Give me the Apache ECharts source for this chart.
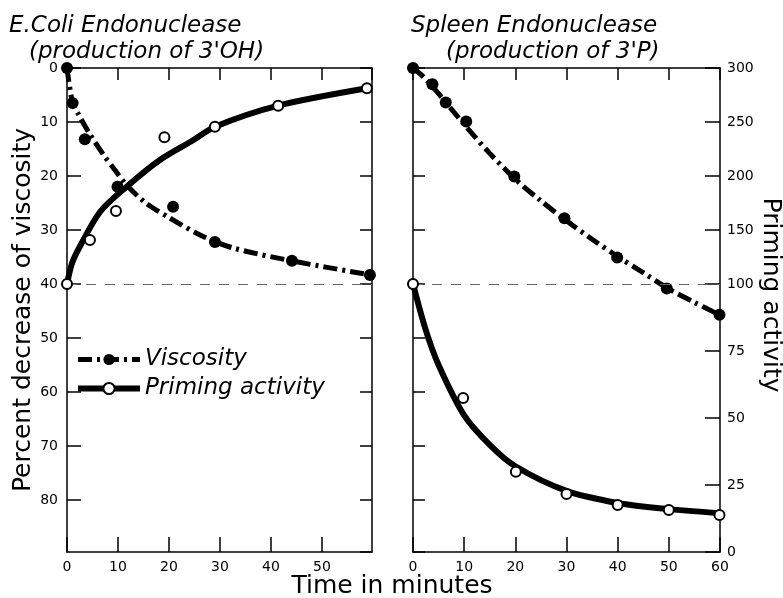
<!DOCTYPE html>
<html><head><meta charset="utf-8">
<script src="https://cdn.jsdelivr.net/npm/echarts@6/dist/echarts.min.js"></script>
<style>html,body{margin:0;padding:0;background:#fff}#c{width:783px;height:598px}</style>
</head><body><div id="c"></div>
<script>
// ---- Left panel: E. coli endonuclease ----
// Viscosity (percent decrease), measured points
const ecoliViscPtTime = [0, 1.1, 3.5, 9.9, 20.8, 29.0, 44.1, 59.4];
const ecoliViscPtVal  = [0, 6.5, 13.2, 22.0, 25.7, 32.2, 35.7, 38.3];
// Viscosity drawn curve
const ecoliViscCurveTime = [0, 1.1, 2.2, 4.2, 7.1, 9.4, 11.7, 15.6, 20.2, 26.1, 32.5, 44.1, 59.4];
const ecoliViscCurveVal  = [0, 6.5, 8.5, 11.8, 16.0, 18.9, 21.7, 25.1, 27.8, 30.9, 33.3, 35.7, 38.3];
// Priming activity, measured points
const ecoliPrimPtTime = [0, 4.5, 9.6, 19.1, 29.0, 41.4, 58.8];
const ecoliPrimPtVal  = [100, 140.7, 167.6, 235.8, 245.6, 265.1, 281.2];
// Priming activity drawn curve
const ecoliPrimCurveTime = [0, 1.0, 2.5, 6.5, 11.7, 18.2, 24.8, 29.0, 41.4, 58.8];
const ecoliPrimCurveVal  = [100, 119.4, 134.5, 166.9, 190.1, 214.8, 233.3, 245.6, 265.1, 281.2];

// ---- Right panel: Spleen endonuclease ----
const spleenViscPtTime = [0, 3.8, 6.4, 10.4, 19.8, 29.6, 39.9, 49.6, 59.9];
const spleenViscPtVal  = [0, 3.0, 6.4, 9.9, 20.1, 27.8, 35.1, 40.8, 45.7];
const spleenViscCurveTime = [0, 2, 4.5, 7.5, 10.5, 15, 20, 25, 30, 35, 40, 45, 50, 55, 59.9];
const spleenViscCurveVal  = [0, 1.6, 4.2, 7.6, 11.0, 15.8, 20.6, 24.6, 28.3, 31.7, 34.9, 37.9, 40.9, 43.4, 45.7];
const spleenPrimPtTime = [0, 9.8, 20.1, 30, 40, 50, 59.9];
const spleenPrimPtVal  = [100, 57.5, 29.9, 21.6, 17.5, 15.7, 13.8];
const spleenPrimCurveTime = [0, 2.5, 5, 10, 15, 20, 30, 40, 50, 60];
const spleenPrimCurveVal  = [100, 82.8, 69.8, 51, 40, 32, 22.8, 18.3, 16, 14.5];

// Text
const titleLeft1 = 'E.Coli Endonuclease';
const titleLeft2 = "(production of 3'OH)";
const titleRight1 = 'Spleen Endonuclease';
const titleRight2 = "(production of 3'P)";
const yNameLeft = 'Percent decrease of viscosity';
const yNameRight = 'Priming activity';
const xName = 'Time in minutes';
const seriesNames = ['Viscosity', 'Priming activity'];

const pair = (xs, ys) => xs.map((x, i) => [x, ys[i]]);
const FONT = 'DejaVu Sans';
const BLACK = '#000';
const axisLineStyle = {color: BLACK, width: 1.5};
const noLine = {show: false, onZero: false};
const line = {show: true, onZero: false, lineStyle: axisLineStyle};
const tickStyle = {color: BLACK, width: 1.5};
const labelStyle = {color: BLACK, fontSize: 14, fontFamily: FONT};
const only10 = v => (Math.abs(v % 10) < 1e-6 ? String(v) : '');

const viscLine = {color: BLACK, width: 5, type: [14, 5, 3, 5]};
const primLine = {color: BLACK, width: 6, type: 'solid'};
const filledDot = {color: BLACK, opacity: 1};
const openDot = {color: '#fff', borderColor: BLACK, borderWidth: 2, opacity: 1};
const markDash = {
  silent: true, symbol: 'none', label: {show: false},
  lineStyle: {type: [10, 9], color: '#666', width: 1},
  data: [{yAxis: 40}]
};

const chart = echarts.init(document.getElementById('c'), null, {renderer: 'canvas'});
const option = {
  backgroundColor: '#fff',
  animation: false,
  grid: [
    {left: 67, top: 68, width: 305, height: 484, outerBoundsMode: 'none'},  // 0 left full
    {left: 67, top: 68, width: 305, height: 216, outerBoundsMode: 'none'},  // 1 left priming (100-300)
    {left: 413, top: 68, width: 307, height: 484, outerBoundsMode: 'none'}, // 2 right full
    {left: 413, top: 68, width: 307, height: 216, outerBoundsMode: 'none'}, // 3 right axis 100-300
    {left: 413, top: 284, width: 307, height: 268, outerBoundsMode: 'none'} // 4 right axis 0-100
  ],
  xAxis: [
    {gridIndex: 0, type: 'value', min: 0, max: 59.8, interval: 10, position: 'bottom',
      axisLine: line, splitLine: {show: false},
      axisTick: {show: true, inside: true, length: 15, lineStyle: tickStyle},
      axisLabel: Object.assign({margin: 8, formatter: only10, showMaxLabel: false}, labelStyle)},
    {gridIndex: 0, type: 'value', min: 0, max: 59.8, interval: 10, position: 'top',
      axisLine: line, splitLine: {show: false},
      axisTick: {show: true, inside: true, length: 12, lineStyle: tickStyle},
      axisLabel: {show: false}},
    {gridIndex: 1, type: 'value', min: 0, max: 59.8, show: false, axisLine: noLine},
    {gridIndex: 2, type: 'value', min: 0, max: 60, interval: 10, position: 'bottom',
      axisLine: line, splitLine: {show: false},
      axisTick: {show: true, inside: true, length: 15, lineStyle: tickStyle},
      axisLabel: Object.assign({margin: 8}, labelStyle)},
    {gridIndex: 2, type: 'value', min: 0, max: 60, interval: 10, position: 'top',
      axisLine: line, splitLine: {show: false},
      axisTick: {show: true, inside: true, length: 12, lineStyle: tickStyle},
      axisLabel: {show: false}},
    {gridIndex: 3, type: 'value', min: 0, max: 60, show: false, axisLine: noLine},
    {gridIndex: 4, type: 'value', min: 0, max: 60, show: false, axisLine: noLine}
  ],
  yAxis: [
    {gridIndex: 0, type: 'value', inverse: true, min: 0, max: 89.6, interval: 10, position: 'left',
      axisLine: line, splitLine: {show: false},
      axisTick: {show: true, inside: true, length: 14, lineStyle: tickStyle},
      axisLabel: Object.assign({margin: 9, formatter: only10, showMaxLabel: false}, labelStyle),
      name: yNameLeft, nameLocation: 'middle', nameGap: 31, nameRotate: 90,
      nameTextStyle: {color: BLACK, fontSize: 25, fontFamily: FONT}},
    {gridIndex: 0, type: 'value', inverse: true, min: 0, max: 89.6, interval: 10, position: 'right',
      axisLine: line, splitLine: {show: false},
      axisTick: {show: true, inside: true, length: 12, lineStyle: tickStyle},
      axisLabel: {show: false}},
    {gridIndex: 1, type: 'value', min: 100, max: 300, show: false, axisLine: noLine},
    {gridIndex: 2, type: 'value', inverse: true, min: 0, max: 89.6, interval: 10, position: 'left',
      axisLine: line, splitLine: {show: false},
      axisTick: {show: true, inside: true, length: 12, lineStyle: tickStyle},
      axisLabel: {show: false}},
    {gridIndex: 2, type: 'value', inverse: true, min: 0, max: 89.6, position: 'right',
      axisLine: line, splitLine: {show: false},
      axisTick: {show: false}, axisLabel: {show: false}},
    {gridIndex: 3, type: 'value', min: 100, max: 300, interval: 50, position: 'right',
      axisLine: noLine, splitLine: {show: false},
      axisTick: {show: true, inside: true, length: 15, lineStyle: tickStyle},
      axisLabel: Object.assign({margin: 7, showMinLabel: false}, labelStyle)},
    {gridIndex: 4, type: 'value', min: 0, max: 100, interval: 25, position: 'right',
      axisLine: noLine, splitLine: {show: false},
      axisTick: {show: true, inside: true, length: 15, lineStyle: tickStyle},
      axisLabel: Object.assign({margin: 7}, labelStyle)}
  ],
  legend: {
    show: true, orient: 'vertical', left: 70, top: 343,
    data: [
      {name: seriesNames[0], lineStyle: {width: 5, type: [14, 5, 3, 5], color: BLACK}, itemStyle: filledDot},
      {name: seriesNames[1], lineStyle: {width: 6, type: 'solid', color: BLACK}, itemStyle: openDot}
    ],
    itemWidth: 62, itemHeight: 14, itemGap: 6,
    textStyle: {color: BLACK, fontSize: 23, fontStyle: 'italic', fontFamily: FONT, lineHeight: 22},
    selectedMode: false
  },
  graphic: [
    {type: 'text', x: 9, y: 26, style: {text: titleLeft1, font: 'italic 23px "DejaVu Sans"', fill: BLACK, align: 'left', verticalAlign: 'middle'}},
    {type: 'text', x: 29, y: 52, style: {text: titleLeft2, font: 'italic 23px "DejaVu Sans"', fill: BLACK, align: 'left', verticalAlign: 'middle'}},
    {type: 'text', x: 411, y: 26, style: {text: titleRight1, font: 'italic 23px "DejaVu Sans"', fill: BLACK, align: 'left', verticalAlign: 'middle'}},
    {type: 'text', x: 446, y: 52, style: {text: titleRight2, font: 'italic 23px "DejaVu Sans"', fill: BLACK, align: 'left', verticalAlign: 'middle'}},
    {type: 'text', x: 392, y: 586, style: {text: xName, font: '25px "DejaVu Sans"', fill: BLACK, align: 'center', verticalAlign: 'middle'}},
    {type: 'text', x: 770, y: 295, rotation: -Math.PI / 2, style: {text: yNameRight, font: '25px "DejaVu Sans"', fill: BLACK, align: 'center', verticalAlign: 'middle'}}
  ],
  series: [
    {name: 'Viscosity', type: 'line', xAxisIndex: 0, yAxisIndex: 0, smooth: 0.3,
      data: pair(ecoliViscCurveTime, ecoliViscCurveVal), symbol: 'circle', showSymbol: false,
      lineStyle: viscLine, itemStyle: filledDot, markLine: markDash, z: 2},
    {name: 'Viscosity points', type: 'scatter', xAxisIndex: 0, yAxisIndex: 0,
      data: pair(ecoliViscPtTime, ecoliViscPtVal), symbol: 'circle', symbolSize: 12,
      itemStyle: filledDot, z: 4},
    {name: 'Priming activity', type: 'line', xAxisIndex: 2, yAxisIndex: 2, smooth: 0.3,
      data: pair(ecoliPrimCurveTime, ecoliPrimCurveVal), symbol: 'circle', showSymbol: false,
      lineStyle: primLine, itemStyle: openDot, z: 2},
    {name: 'Priming points', type: 'scatter', xAxisIndex: 2, yAxisIndex: 2,
      data: pair(ecoliPrimPtTime, ecoliPrimPtVal), symbol: 'circle', symbolSize: 10,
      itemStyle: openDot, z: 5},
    {name: 'Viscosity', type: 'line', xAxisIndex: 3, yAxisIndex: 3, smooth: 0.3,
      data: pair(spleenViscCurveTime, spleenViscCurveVal), symbol: 'circle', showSymbol: false,
      lineStyle: viscLine, itemStyle: filledDot, markLine: markDash, z: 2},
    {name: 'Viscosity points', type: 'scatter', xAxisIndex: 3, yAxisIndex: 3,
      data: pair(spleenViscPtTime, spleenViscPtVal), symbol: 'circle', symbolSize: 12,
      itemStyle: filledDot, z: 4},
    {name: 'Priming activity', type: 'line', xAxisIndex: 6, yAxisIndex: 6, smooth: 0.3,
      data: pair(spleenPrimCurveTime, spleenPrimCurveVal), symbol: 'circle', showSymbol: false,
      lineStyle: primLine, itemStyle: openDot, z: 2},
    {name: 'Priming points', type: 'scatter', xAxisIndex: 6, yAxisIndex: 6,
      data: pair(spleenPrimPtTime, spleenPrimPtVal), symbol: 'circle', symbolSize: 10,
      itemStyle: openDot, z: 5}
  ]
};
chart.setOption(option);
</script>
</body></html>
